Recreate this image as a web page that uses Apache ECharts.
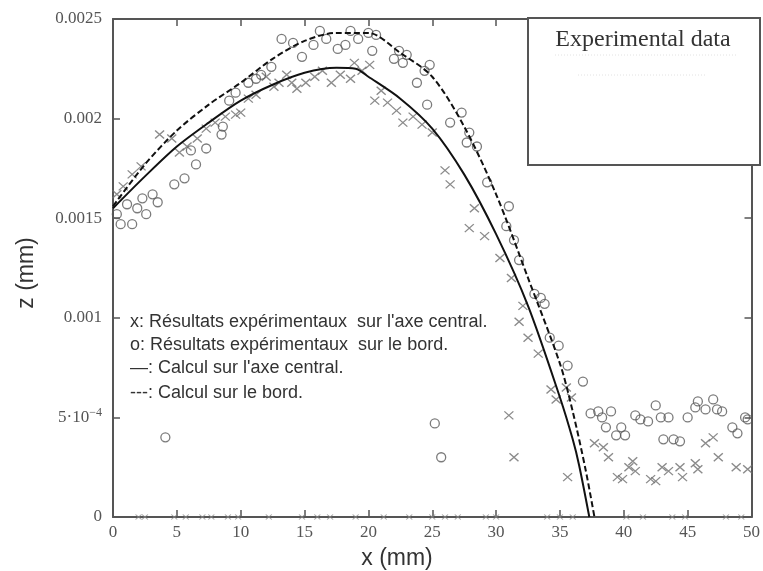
<!DOCTYPE html>
<html>
<head>
<meta charset="utf-8">
<script src="https://cdn.jsdelivr.net/npm/echarts@6/dist/echarts.min.js"></script>
<style>
  html, body { margin: 0; padding: 0; background: #fff; }
  #chart { width: 763px; height: 571px; }
</style>
</head>
<body>
<div id="chart"></div>
<script>
// tick labels
const xTickLabels = ['0', '5', '10', '15', '20', '25', '30', '35', '40', '45', '50'];
const yTickLabels = ['0', '5·10{sup|−4}', '0.001', '0.0015', '0.002', '0.0025'];

// calcul sur l'axe central (trait plein)
const calcCentralX = [0, 2.5, 5, 7.5, 10, 12.5, 15, 17.5, 19, 20, 22.5, 25, 27.5, 30, 32.5, 35, 36, 36.5, 37.3];
const calcCentralZ = [0.00155, 0.00171, 0.00186, 0.00198, 0.00209, 0.00217, 0.00223, 0.002255, 0.00225, 0.00221, 0.00210, 0.00195, 0.00172, 0.00142, 0.00106, 0.00060, 0.00039, 0.00026, 0];

// calcul sur le bord (pointillés)
const calcEdgeX = [0, 2.5, 5, 7.5, 10, 12.5, 15, 17.5, 20, 22.5, 25, 27.5, 30, 32.5, 35, 36, 37, 37.7];
const calcEdgeZ = [0.00156, 0.00177, 0.00194, 0.00207, 0.00218, 0.00230, 0.00239, 0.00243, 0.00243, 0.00233, 0.00221, 0.00196, 0.00162, 0.00120, 0.00077, 0.00053, 0.00024, 0];

// x : résultats expérimentaux sur l'axe central
const crossX = [0.3, 0.8, 1.5, 2.2, 3.65, 4.6, 5.2, 5.8, 6.6, 7.3, 8.0, 8.8, 9.6, 10.0, 10.6, 11.2, 12.0, 12.6, 13.0, 13.6, 14.0, 14.4,
  15.1, 15.8, 16.4, 17.1, 17.8, 18.6, 18.9, 19.5, 20.1, 20.5, 21.0, 21.5, 22.2, 22.7, 23.5, 24.2, 25.0, 26.0, 26.4, 27.9, 28.3, 29.1,
  30.3, 31.0, 31.2, 31.4, 31.8, 32.1, 32.5, 33.3, 34.3, 34.7, 35.5, 35.6, 35.9, 37.7, 38.4, 38.8, 39.5, 39.9, 40.4, 40.7, 40.9,
  42.1, 42.5, 43.0, 43.5, 44.4, 44.6, 45.6, 45.8, 46.4, 47.0, 47.4, 48.8, 49.7];
const crossZ = [0.00162, 0.00166, 0.00172, 0.00176, 0.00192, 0.00190, 0.00183, 0.00186, 0.00190, 0.00195, 0.00198, 0.00201, 0.00202, 0.00203, 0.00210, 0.00212, 0.00221, 0.00216, 0.00218, 0.00222, 0.00218, 0.00215,
  0.00218, 0.00221, 0.00224, 0.00218, 0.00222, 0.00220, 0.00228, 0.00224, 0.00227, 0.00209, 0.00214, 0.00208, 0.00204, 0.00198, 0.00201, 0.00197, 0.00193, 0.00174, 0.00167, 0.00145, 0.00155, 0.00141,
  0.00130, 0.00051, 0.00120, 0.00030, 0.00098, 0.00106, 0.00090, 0.00082, 0.00064, 0.00059, 0.00065, 0.00020, 0.00060, 0.00037, 0.00035, 0.00030, 0.00020, 0.00019, 0.00025, 0.00028, 0.00023,
  0.00019, 0.00018, 0.00025, 0.00023, 0.00025, 0.00020, 0.00027, 0.00024, 0.00037, 0.00040, 0.00030, 0.00025, 0.00024];

// points au ras de l'axe (z = 0)
const crossBottomX = [2, 2.5, 4.8, 5.7, 7, 7.7, 9, 9.8, 12.2, 14.8, 16, 17, 19, 21.2, 23.2, 25, 26, 27, 29.2, 30, 34, 35, 36, 40.2, 41.5, 43.8, 44.8, 48, 49.2];

// o : résultats expérimentaux sur le bord
const circleX = [0.3, 0.6, 1.1, 1.5, 1.9, 2.3, 2.6, 3.1, 3.5, 4.8, 5.6, 6.1, 6.5, 7.3, 8.5, 8.6, 9.1, 9.6, 10.6, 11.2, 11.6, 12.4, 13.2, 14.1,
  14.8, 15.7, 16.2, 16.7, 17.6, 18.2, 18.6, 19.2, 20.0, 20.3, 20.6, 22.0, 22.4, 22.7, 23.0, 23.8, 24.4, 24.6, 24.8, 26.4, 27.3, 27.7, 27.9,
  28.5, 29.3, 30.8, 31.0, 31.4, 31.8, 33.0, 33.5, 33.8, 34.2, 34.9, 35.6, 36.8, 37.4, 38.0, 38.3, 38.6, 39.0, 39.4, 39.8, 40.1, 40.9,
  41.3, 41.9, 42.5, 42.9, 43.1, 43.5, 43.9, 44.4, 45.0, 45.6, 45.8, 46.4, 47.0, 47.3, 47.7, 48.5, 48.9, 49.5, 49.7, 4.1, 25.2, 25.7];
const circleZ = [0.00152, 0.00147, 0.00157, 0.00147, 0.00155, 0.00160, 0.00152, 0.00162, 0.00158, 0.00167, 0.00170, 0.00184, 0.00177, 0.00185, 0.00192, 0.00196, 0.00209, 0.00213, 0.00218, 0.00220, 0.00222, 0.00226, 0.00240, 0.00238,
  0.00231, 0.00237, 0.00244, 0.00240, 0.00235, 0.00237, 0.00244, 0.00240, 0.00243, 0.00234, 0.00242, 0.00230, 0.00234, 0.00228, 0.00232, 0.00218, 0.00224, 0.00207, 0.00227, 0.00198, 0.00203, 0.00188, 0.00193,
  0.00186, 0.00168, 0.00146, 0.00156, 0.00139, 0.00129, 0.00112, 0.00110, 0.00107, 0.00090, 0.00086, 0.00076, 0.00068, 0.00052, 0.00053, 0.00050, 0.00045, 0.00053, 0.00041, 0.00045, 0.00041, 0.00051,
  0.00049, 0.00048, 0.00056, 0.00050, 0.00039, 0.00050, 0.00039, 0.00038, 0.00050, 0.00055, 0.00058, 0.00054, 0.00059, 0.00054, 0.00053, 0.00045, 0.00042, 0.00050, 0.00049, 0.00040, 0.00047, 0.00030];

function zip(xs, ys) {
  return xs.map(function (x, i) { return [x, ys[i]]; });
}

const crossSymbol = 'path://M0,0L10,10M10,0L0,10';
const axisColor = '#555';
const labelFont = 'Liberation Serif';

function makeXAxis(pos, labels) {
  return {
    type: 'value', position: pos, min: 0, max: 50, interval: 5,
    axisLine: { show: true, onZero: false, lineStyle: { color: axisColor, width: 2 } },
    axisTick: { show: true, inside: true, length: 7, lineStyle: { color: axisColor, width: 1.5 } },
    axisLabel: {
      show: labels, color: '#555', fontFamily: labelFont, fontSize: 17, margin: 7,
      formatter: function (v) { return xTickLabels[Math.round(v / 5)]; }
    },
    splitLine: { show: false }
  };
}

function makeYAxis(pos, labels) {
  return {
    type: 'value', position: pos, min: 0, max: 0.0025, interval: 0.0005,
    axisLine: { show: true, onZero: false, lineStyle: { color: axisColor, width: 2 } },
    axisTick: { show: true, inside: true, length: 7, lineStyle: { color: axisColor, width: 1.5 } },
    axisLabel: {
      show: labels, color: '#555', fontFamily: labelFont, fontSize: 17, margin: 11,
      formatter: function (v) { return yTickLabels[Math.round(v / 0.0005)]; },
      rich: { sup: { fontSize: 12, fontFamily: labelFont, color: '#555', padding: [0, 0, 10, 0] } }
    },
    splitLine: { show: false }
  };
}

const chart = echarts.init(document.getElementById('chart'));
chart.setOption({
  backgroundColor: '#fff',
  animation: false,
  grid: { left: 113, right: 6, top: 19, bottom: 54 },
  xAxis: [makeXAxis('bottom', true), makeXAxis('top', false)],
  yAxis: [makeYAxis('left', true), makeYAxis('right', false)],
  series: [
    {
      name: 'central', type: 'line', data: zip(calcCentralX, calcCentralZ),
      showSymbol: false, smooth: 0.3, z: 3,
      lineStyle: { color: '#111', width: 2 }
    },
    {
      name: 'bord', type: 'line', data: zip(calcEdgeX, calcEdgeZ),
      showSymbol: false, smooth: 0.3, z: 3,
      lineStyle: { color: '#111', width: 2, type: [6, 3] }
    },
    {
      name: 'x', type: 'scatter', data: zip(crossX, crossZ),
      symbol: crossSymbol, symbolSize: [9, 8],
      itemStyle: { color: 'rgba(0,0,0,0)', borderColor: '#6e6e6e', borderWidth: 1.3 }
    },
    {
      name: 'x0', type: 'scatter', data: crossBottomX.map(function (x) { return [x, 0]; }),
      symbol: crossSymbol, symbolSize: [6, 5],
      itemStyle: { color: 'rgba(0,0,0,0)', borderColor: '#8a8a8a', borderWidth: 1 }
    },
    {
      name: 'o', type: 'scatter', data: zip(circleX, circleZ),
      symbol: 'circle', symbolSize: 9,
      itemStyle: { color: 'rgba(0,0,0,0)', borderColor: '#5a5a5a', borderWidth: 1.3 }
    }
  ],
  graphic: [
    // axis titles
    { type: 'text', x: 397, y: 559, style: { text: 'x (mm)', font: '23px "Liberation Sans"', fill: '#333', textAlign: 'center', textVerticalAlign: 'middle' } },
    { type: 'text', x: 27, y: 273, rotation: Math.PI / 2, style: { text: 'z (mm)', font: '23px "Liberation Sans"', fill: '#333', textAlign: 'center', textVerticalAlign: 'middle' } },
    // annotation
    { type: 'text', x: 130, y: 322, style: { text: "x: Résultats expérimentaux  sur l'axe central.", font: '18px "Liberation Sans"', fill: '#333', textVerticalAlign: 'middle' } },
    { type: 'text', x: 130, y: 345, style: { text: 'o: Résultats expérimentaux  sur le bord.', font: '18px "Liberation Sans"', fill: '#333', textVerticalAlign: 'middle' } },
    { type: 'text', x: 130, y: 368, style: { text: "—: Calcul sur l'axe central.", font: '18px "Liberation Sans"', fill: '#333', textVerticalAlign: 'middle' } },
    { type: 'text', x: 130, y: 393, style: { text: '---: Calcul sur le bord.', font: '18px "Liberation Sans"', fill: '#333', textVerticalAlign: 'middle' } },
    // boîte "Experimental data"
    { type: 'rect', z: 100, shape: { x: 528, y: 18, width: 232, height: 147 }, style: { fill: '#fff', stroke: '#555', lineWidth: 2 } },
    { type: 'text', z: 101, x: 643, y: 40, style: { text: 'Experimental data', font: '24px "Liberation Serif"', fill: '#333', textAlign: 'center', textVerticalAlign: 'middle' } },
    { type: 'line', z: 101, shape: { x1: 555, y1: 55, x2: 738, y2: 55 }, style: { stroke: '#e2e2e2', lineWidth: 1, lineDash: [1, 2] } },
    { type: 'line', z: 101, shape: { x1: 578, y1: 75, x2: 707, y2: 75 }, style: { stroke: '#e2e2e2', lineWidth: 1, lineDash: [1, 2] } }
  ]
});
</script>
</body>
</html>
